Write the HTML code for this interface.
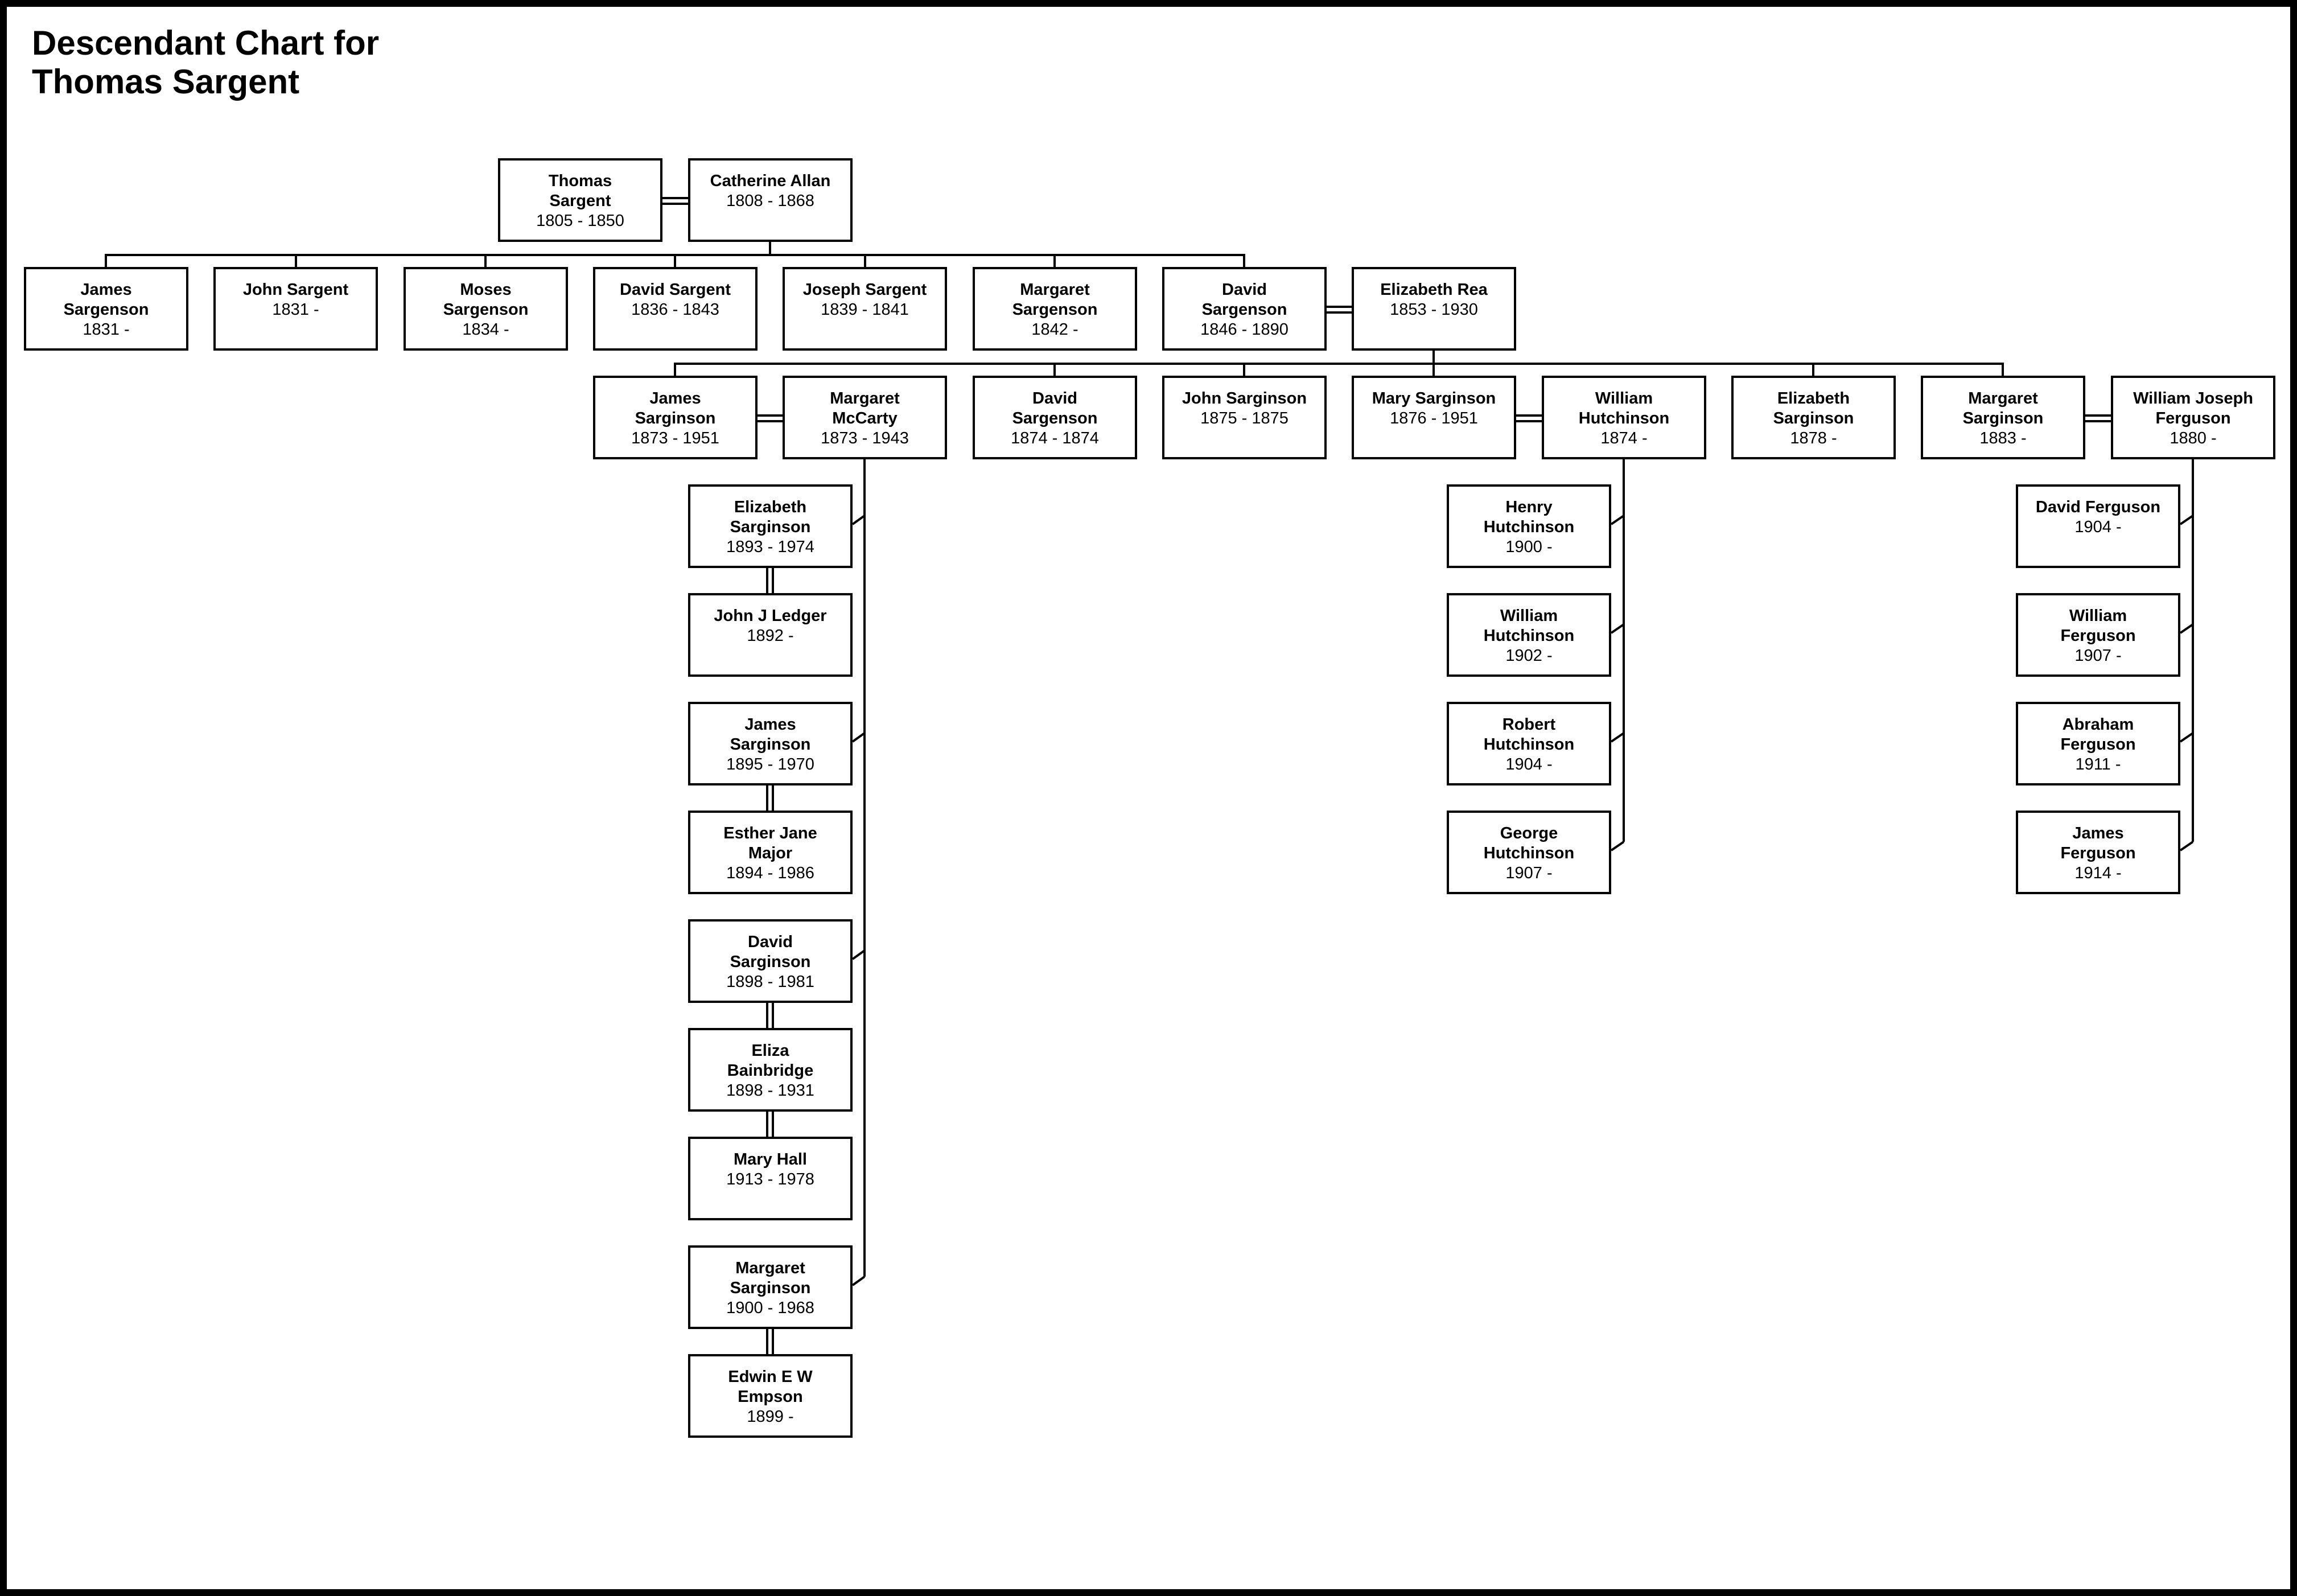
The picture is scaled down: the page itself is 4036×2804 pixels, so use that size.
<!DOCTYPE html>
<html><head><meta charset="utf-8"><style>
*{margin:0;padding:0;box-sizing:border-box}
body{width:4036px;height:2804px;background:#fff;position:relative;overflow:hidden;font-family:"Liberation Sans",Arial,sans-serif}
#frame{position:absolute;left:0;top:0;width:4036px;height:2804px;border:12px solid #000}
h1{position:absolute;left:56px;top:42px;font-size:60px;line-height:68px;font-weight:bold;color:#000}
.b{position:absolute;width:289px;height:147px;border:4px solid #000;background:#fff;text-align:center;padding-top:19px;font-size:29px;line-height:35px;color:#000}
.b b{font-weight:bold}
svg{position:absolute;left:0;top:0}
</style></head><body>
<div id="frame"></div>
<h1>Descendant Chart for<br>Thomas Sargent</h1>
<svg width="4036" height="2804" stroke="#000" stroke-width="4" fill="none">
<line x1="1164" y1="348" x2="1209" y2="348"/><line x1="1164" y1="358" x2="1209" y2="358"/>
<line x1="1353" y1="425" x2="1353" y2="448"/>
<line x1="184" y1="448" x2="2188" y2="448"/>
<line x1="186" y1="448" x2="186" y2="469"/><line x1="520" y1="448" x2="520" y2="469"/>
<line x1="853" y1="448" x2="853" y2="469"/><line x1="1186" y1="448" x2="1186" y2="469"/>
<line x1="1520" y1="448" x2="1520" y2="469"/><line x1="1853" y1="448" x2="1853" y2="469"/>
<line x1="2186" y1="448" x2="2186" y2="469"/>
<line x1="2331" y1="539" x2="2375" y2="539"/><line x1="2331" y1="549" x2="2375" y2="549"/>
<line x1="2519" y1="616" x2="2519" y2="639"/>
<line x1="1184" y1="639" x2="3521" y2="639"/>
<line x1="1186" y1="639" x2="1186" y2="660"/><line x1="1853" y1="639" x2="1853" y2="660"/>
<line x1="2186" y1="639" x2="2186" y2="660"/><line x1="2519" y1="639" x2="2519" y2="660"/>
<line x1="3186" y1="639" x2="3186" y2="660"/><line x1="3519" y1="639" x2="3519" y2="660"/>
<line x1="1331" y1="730" x2="1375" y2="730"/><line x1="1331" y1="740" x2="1375" y2="740"/>
<line x1="2664" y1="730" x2="2709" y2="730"/><line x1="2664" y1="740" x2="2709" y2="740"/>
<line x1="3664" y1="730" x2="3709" y2="730"/><line x1="3664" y1="740" x2="3709" y2="740"/>
<line x1="1519" y1="807" x2="1519" y2="2243"/>
<line x1="1498" y1="921" x2="1519" y2="906"/>
<line x1="1498" y1="1303" x2="1519" y2="1288"/>
<line x1="1498" y1="1685" x2="1519" y2="1670"/>
<line x1="1498" y1="2258" x2="1519" y2="2243"/>
<line x1="1348" y1="998" x2="1348" y2="1042"/><line x1="1358" y1="998" x2="1358" y2="1042"/>
<line x1="1348" y1="1380" x2="1348" y2="1424"/><line x1="1358" y1="1380" x2="1358" y2="1424"/>
<line x1="1348" y1="1762" x2="1348" y2="1806"/><line x1="1358" y1="1762" x2="1358" y2="1806"/>
<line x1="1348" y1="1953" x2="1348" y2="1997"/><line x1="1358" y1="1953" x2="1358" y2="1997"/>
<line x1="1348" y1="2335" x2="1348" y2="2379"/><line x1="1358" y1="2335" x2="1358" y2="2379"/>
<line x1="2853" y1="807" x2="2853" y2="1479"/>
<line x1="2831" y1="921" x2="2853" y2="906"/>
<line x1="2831" y1="1112" x2="2853" y2="1097"/>
<line x1="2831" y1="1303" x2="2853" y2="1288"/>
<line x1="2831" y1="1494" x2="2853" y2="1479"/>
<line x1="3853" y1="807" x2="3853" y2="1479"/>
<line x1="3831" y1="921" x2="3853" y2="906"/>
<line x1="3831" y1="1112" x2="3853" y2="1097"/>
<line x1="3831" y1="1303" x2="3853" y2="1288"/>
<line x1="3831" y1="1494" x2="3853" y2="1479"/>
</svg>

<div class="b" style="left:875px;top:278px"><b>Thomas<br>Sargent</b><br>1805 - 1850</div>
<div class="b" style="left:1209px;top:278px"><b>Catherine Allan</b><br>1808 - 1868</div>

<div class="b" style="left:42px;top:469px"><b>James<br>Sargenson</b><br>1831 -</div>
<div class="b" style="left:375px;top:469px"><b>John Sargent</b><br>1831 -</div>
<div class="b" style="left:709px;top:469px"><b>Moses<br>Sargenson</b><br>1834 -</div>
<div class="b" style="left:1042px;top:469px"><b>David Sargent</b><br>1836 - 1843</div>
<div class="b" style="left:1375px;top:469px"><b>Joseph Sargent</b><br>1839 - 1841</div>
<div class="b" style="left:1709px;top:469px"><b>Margaret<br>Sargenson</b><br>1842 -</div>
<div class="b" style="left:2042px;top:469px"><b>David<br>Sargenson</b><br>1846 - 1890</div>
<div class="b" style="left:2375px;top:469px"><b>Elizabeth Rea</b><br>1853 - 1930</div>

<div class="b" style="left:1042px;top:660px"><b>James<br>Sarginson</b><br>1873 - 1951</div>
<div class="b" style="left:1375px;top:660px"><b>Margaret<br>McCarty</b><br>1873 - 1943</div>
<div class="b" style="left:1709px;top:660px"><b>David<br>Sargenson</b><br>1874 - 1874</div>
<div class="b" style="left:2042px;top:660px"><b>John Sarginson</b><br>1875 - 1875</div>
<div class="b" style="left:2375px;top:660px"><b>Mary Sarginson</b><br>1876 - 1951</div>
<div class="b" style="left:2709px;top:660px"><b>William<br>Hutchinson</b><br>1874 -</div>
<div class="b" style="left:3042px;top:660px"><b>Elizabeth<br>Sarginson</b><br>1878 -</div>
<div class="b" style="left:3375px;top:660px"><b>Margaret<br>Sarginson</b><br>1883 -</div>
<div class="b" style="left:3709px;top:660px"><b>William Joseph<br>Ferguson</b><br>1880 -</div>

<div class="b" style="left:1209px;top:851px"><b>Elizabeth<br>Sarginson</b><br>1893 - 1974</div>
<div class="b" style="left:1209px;top:1042px"><b>John J Ledger</b><br>1892 -</div>
<div class="b" style="left:1209px;top:1233px"><b>James<br>Sarginson</b><br>1895 - 1970</div>
<div class="b" style="left:1209px;top:1424px"><b>Esther Jane<br>Major</b><br>1894 - 1986</div>
<div class="b" style="left:1209px;top:1615px"><b>David<br>Sarginson</b><br>1898 - 1981</div>
<div class="b" style="left:1209px;top:1806px"><b>Eliza<br>Bainbridge</b><br>1898 - 1931</div>
<div class="b" style="left:1209px;top:1997px"><b>Mary Hall</b><br>1913 - 1978</div>
<div class="b" style="left:1209px;top:2188px"><b>Margaret<br>Sarginson</b><br>1900 - 1968</div>
<div class="b" style="left:1209px;top:2379px"><b>Edwin E W<br>Empson</b><br>1899 -</div>

<div class="b" style="left:2542px;top:851px"><b>Henry<br>Hutchinson</b><br>1900 -</div>
<div class="b" style="left:2542px;top:1042px"><b>William<br>Hutchinson</b><br>1902 -</div>
<div class="b" style="left:2542px;top:1233px"><b>Robert<br>Hutchinson</b><br>1904 -</div>
<div class="b" style="left:2542px;top:1424px"><b>George<br>Hutchinson</b><br>1907 -</div>

<div class="b" style="left:3542px;top:851px"><b>David Ferguson</b><br>1904 -</div>
<div class="b" style="left:3542px;top:1042px"><b>William<br>Ferguson</b><br>1907 -</div>
<div class="b" style="left:3542px;top:1233px"><b>Abraham<br>Ferguson</b><br>1911 -</div>
<div class="b" style="left:3542px;top:1424px"><b>James<br>Ferguson</b><br>1914 -</div>
</body></html>
